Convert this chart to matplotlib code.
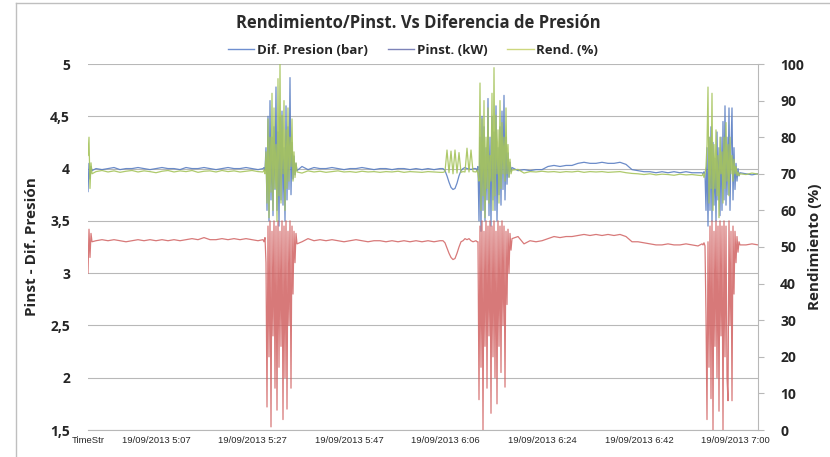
import numpy as np
import matplotlib
matplotlib.use("Agg")
import matplotlib.pyplot as plt
from matplotlib.lines import Line2D
from matplotlib.ticker import FuncFormatter

plt.rcParams['font.family'] = ['Open Sans', 'DejaVu Sans']

# ---- data -------------------------------------------------------------
# sample index (time axis, irregular resolution: finer inside the bursts)
sample = np.concatenate([
    np.arange(0, 5), np.arange(8, 171, 6), np.arange(175, 210),
    np.arange(214, 353, 6), np.arange(355, 386, 2), np.arange(388, 425),
    np.arange(430, 611, 6), np.arange(614, 653), np.arange(658, 671, 6)])

time_labels = ["TimeStr", "19/09/2013 5:07", "19/09/2013 5:27", "19/09/2013 5:47",
               "19/09/2013 6:06", "19/09/2013 6:24", "19/09/2013 6:42", "19/09/2013 7:00"]

dif_presion = [
    # start
    3.78, 4.05, 3.90, 4.02, 3.98,
    # baseline
    4.00, 3.99, 4.00, 4.01, 3.99, 4.00, 4.00, 4.01, 4.00, 3.99, 4.00, 4.01, 4.00, 4.00,
    3.99, 4.01, 4.00, 4.00, 4.01, 4.00, 3.99, 4.00, 4.01, 4.00, 4.00, 4.01, 4.00, 3.99,
    # burst 1
    4.00, 4.01, 3.98, 4.20, 3.60, 4.50, 3.50, 4.65, 3.70, 4.30, 3.55, 4.40, 3.80, 4.78,
    3.60, 4.35, 3.45, 4.50, 3.70, 4.55, 3.65, 4.20, 3.50, 4.60, 3.70, 4.40, 3.80, 4.87,
    3.75, 4.25, 3.90, 4.12, 3.94, 4.05, 3.98,
    # baseline
    4.02, 3.99, 4.01, 4.00, 4.00, 4.01, 4.00, 3.99, 4.00, 4.00, 4.01, 4.00, 3.99, 4.00,
    4.00, 3.99, 4.00, 4.00, 3.99, 4.00, 3.99, 4.00, 3.99, 4.00,
    # dip
    4.00, 3.98, 3.93, 3.87, 3.82, 3.80, 3.81, 3.86, 3.93, 3.98, 4.00, 4.01, 4.00, 4.00,
    3.99, 4.00,
    # burst 2
    4.00, 3.98, 4.02, 3.50, 4.30, 3.40, 4.50, 3.60, 4.40, 3.50, 4.20, 3.70, 4.67, 3.55,
    4.30, 3.45, 4.50, 3.70, 4.35, 3.60, 4.60, 3.50, 4.20, 3.75, 4.40, 3.65, 4.55, 3.80,
    4.70, 3.70, 4.30, 3.85, 4.15, 3.92, 4.06, 3.97, 4.01,
    # baseline
    3.98, 3.99, 3.98, 3.99, 3.99, 4.02, 4.03, 4.02, 4.03, 4.03, 4.05, 4.06, 4.05, 4.05,
    4.06, 4.05, 4.05, 4.06, 4.04, 3.99, 3.98, 3.97, 3.97, 3.96, 3.97, 3.96, 3.97, 3.96,
    3.97, 3.96, 3.96,
    # burst 3
    3.96, 3.95, 3.97, 3.95, 3.60, 4.20, 3.45, 4.30, 3.60, 4.40, 3.50, 4.25, 3.65, 4.10,
    3.50, 4.35, 3.70, 4.20, 3.55, 4.30, 3.60, 4.45, 3.70, 4.60, 3.65, 4.30, 3.75, 4.58,
    3.60, 4.20, 4.58, 3.70, 4.20, 3.80, 4.05, 3.88, 4.00, 3.93, 3.96,
    # end
    3.95, 3.94, 3.95]

pinst = [
    3.00, 3.42, 3.15, 3.38, 3.30,
    3.31, 3.32, 3.31, 3.32, 3.31, 3.30, 3.31, 3.32, 3.31, 3.32, 3.31, 3.32, 3.31, 3.32,
    3.31, 3.32, 3.33, 3.32, 3.34, 3.32, 3.32, 3.33, 3.32, 3.33, 3.32, 3.33, 3.32, 3.31,
    3.32, 3.30, 3.34, 3.10, 1.72, 3.45, 2.20, 3.50, 1.53, 3.40, 2.40, 3.50, 1.90, 3.45,
    1.69, 3.50, 2.10, 3.40, 2.30, 3.50, 1.60, 3.45, 2.00, 3.50, 1.70, 3.40, 2.50, 3.50,
    1.90, 3.45, 2.80, 3.40, 3.10, 3.38, 3.28,
    3.30, 3.33, 3.31, 3.32, 3.31, 3.32, 3.31, 3.30, 3.31, 3.32, 3.31, 3.30, 3.31, 3.31,
    3.30, 3.31, 3.30, 3.31, 3.30, 3.31, 3.30, 3.31, 3.30, 3.31,
    3.31, 3.29, 3.24, 3.19, 3.15, 3.13, 3.14, 3.19, 3.25, 3.30, 3.31, 3.33, 3.32, 3.33,
    3.31, 3.30,
    3.31, 3.30, 3.30, 1.79, 3.45, 2.10, 3.50, 1.50, 3.40, 2.30, 3.50, 1.90, 3.45, 2.40,
    3.50, 1.66, 3.45, 2.20, 3.50, 2.00, 3.40, 1.75, 3.50, 2.30, 3.45, 2.05, 3.50, 2.50,
    3.45, 1.91, 3.40, 2.70, 3.42, 3.00, 3.38, 3.22, 3.33,
    3.35, 3.28, 3.31, 3.30, 3.31, 3.33, 3.35, 3.34, 3.35, 3.35, 3.36, 3.37, 3.36, 3.37,
    3.36, 3.37, 3.36, 3.37, 3.35, 3.30, 3.30, 3.29, 3.28, 3.27, 3.27, 3.28, 3.27, 3.27,
    3.28, 3.27, 3.26,
    3.28, 3.27, 3.29, 3.26, 2.60, 1.60, 3.30, 2.10, 3.45, 1.80, 3.50, 1.50, 3.40, 2.30,
    3.50, 2.00, 3.45, 1.68, 3.50, 2.40, 3.45, 1.50, 3.50, 2.20, 3.45, 2.00, 1.78, 3.50,
    2.50, 3.40, 1.78, 3.45, 2.80, 3.40, 3.10, 3.35, 3.20, 3.30, 3.27,
    3.27, 3.28, 3.27]

rendimiento = [
    75.0, 80.0, 66.0, 73.0, 70.0,
    70.6, 70.9, 70.5, 70.8, 70.4, 70.7, 70.9, 70.5, 70.8, 70.6, 70.3, 70.7, 70.9, 70.5,
    70.8, 70.6, 70.9, 70.4, 70.7, 70.8, 70.5, 70.9, 70.6, 70.8, 70.5, 70.7, 70.9, 70.6,
    70.5, 71.0, 70.0, 76.0, 62.0, 85.0, 58.0, 80.0, 65.0, 92.0, 60.0, 88.0, 66.0, 78.0,
    57.0, 96.0, 64.0, 100.0, 62.0, 86.0, 70.0, 90.0, 60.0, 82.0, 66.0, 88.0, 68.0, 80.0,
    72.0, 85.0, 68.0, 76.0, 69.0, 73.0, 70.5,
    70.2, 70.8, 70.5, 70.7, 70.4, 70.6, 70.8, 70.5, 70.6, 70.4, 70.7, 70.5, 70.6, 70.4,
    70.6, 70.5, 70.7, 70.4, 70.6, 70.5, 70.4, 70.6, 70.5, 70.4,
    70.4, 70.6, 76.5, 70.3, 76.2, 70.0, 76.5, 70.2, 75.8, 70.4, 70.6, 70.5, 77.0, 70.5,
    76.5, 70.6,
    70.5, 71.0, 70.0, 68.0, 94.8, 60.0, 85.0, 64.0, 90.0, 58.0, 80.0, 66.0, 88.0, 62.0,
    75.0, 68.0, 92.0, 60.0, 99.0, 64.0, 86.0, 70.0, 82.0, 62.0, 90.0, 66.0, 84.0, 70.0,
    80.0, 68.0, 88.0, 70.0, 78.0, 69.0, 74.0, 70.0, 71.0,
    71.2, 70.2, 70.6, 70.5, 70.7, 70.5, 70.6, 70.4, 70.6, 70.5, 70.7, 70.4, 70.6, 70.5,
    70.6, 70.4, 70.5, 70.6, 70.3, 70.1, 70.0, 69.8, 70.0, 69.7, 69.9, 69.8, 69.6, 69.9,
    69.7, 69.8, 69.6,
    69.5, 70.0, 69.0, 70.0, 72.0, 78.0, 93.7, 62.0, 80.0, 66.0, 92.0, 60.0, 78.0, 66.0,
    82.0, 64.0, 75.0, 58.0, 80.0, 70.0, 76.0, 62.0, 80.0, 66.0, 84.0, 68.0, 78.0, 64.0,
    80.0, 70.0, 75.0, 68.0, 74.0, 70.0, 72.0, 69.5, 70.5, 69.5, 70.0,
    69.8, 70.2, 69.9]

# ---- figure -----------------------------------------------------------
C_BLUE = '#5b7fc3'
C_RED = '#d16262'
C_GREEN = '#a6c45c'
TXT = '#262626'

fig = plt.figure(figsize=(8.30, 4.57), dpi=100)
ax = fig.add_axes([88 / 830, 1 - 430 / 457, 670 / 830, 366 / 457])
ax2 = ax.twinx()

ax.plot(sample, dif_presion, color=C_BLUE, lw=0.9, alpha=0.9, zorder=3)
ax.plot(sample, pinst, color=C_RED, lw=0.9, alpha=0.85, zorder=4)
ax2.plot(sample, rendimiento, color=C_GREEN, lw=0.9, alpha=0.9, zorder=5)

ax.set_xlim(0, 670)
ax.set_ylim(1.5, 5)
ax2.set_ylim(0, 100)

ax.set_yticks(np.arange(1.5, 5.01, 0.5))
ax.yaxis.set_major_formatter(FuncFormatter(lambda v, p: f"{v:g}".replace('.', ',')))
ax2.set_yticks(np.arange(0, 101, 10))

ax.grid(axis='y', color='#b8b8b8', lw=0.8)
ax.set_axisbelow(True)
for a in (ax, ax2):
    for s in ('top', 'left'):
        a.spines[s].set_visible(False)
ax.spines['right'].set_visible(False)
ax.spines['bottom'].set_color('#b8b8b8')
ax2.spines['bottom'].set_visible(False)
ax2.spines['right'].set_color('#b8b8b8')

ax.tick_params(axis='y', length=0, pad=13, labelsize=10, labelcolor=TXT)
for t in ax.get_yticklabels():
    t.set_fontweight('bold')
ax2.tick_params(axis='y', length=4, color='#b8b8b8', pad=12, labelsize=10, labelcolor=TXT)
for t in ax2.get_yticklabels():
    t.set_fontweight('bold')

xt = [0] + [68 + 96.6 * i for i in range(7)]
ax.set_xticks(xt)
ax.set_xticklabels(time_labels, fontsize=6.8, family='Liberation Sans', color=TXT)
ax.tick_params(axis='x', length=0, pad=4)

ax.set_ylabel("Pinst - Dif. Presión", fontsize=11, fontweight='bold', color=TXT, labelpad=8)
ax2.set_ylabel("Rendimiento (%)", fontsize=11, fontweight='bold', color=TXT, labelpad=3)

fig.text(418 / 830, 1 - 23 / 457, "Rendimiento/Pinst. Vs Diferencia de Presión",
         ha='center', va='center', fontsize=12, fontweight='bold', color='#2b2b2b')

handles = [Line2D([], [], color='#6f8fd0', lw=1.0),
           Line2D([], [], color='#7d83b8', lw=1.0),
           Line2D([], [], color='#cdd77e', lw=1.0)]
fig.legend(handles, ["Dif. Presion (bar)", "Pinst. (kW)", "Rend. (%)"],
           loc='center', bbox_to_anchor=(413 / 830, 1 - 50 / 457), ncol=3, frameon=False,
           prop={'size': 9.5, 'weight': 'bold'}, handlelength=2.0, handletextpad=0.2,
           columnspacing=1.5, labelcolor=TXT)

# chart-area frame (left and top edges visible in the reference)
fig.add_artist(Line2D([16 / 830, 16 / 830], [0, 1 - 3 / 457], transform=fig.transFigure,
                      color='#bfbfbf', lw=1))
fig.add_artist(Line2D([16 / 830, 1], [1 - 3 / 457, 1 - 3 / 457], transform=fig.transFigure,
                      color='#bfbfbf', lw=1))

fig.savefig("out.png", dpi=100)
